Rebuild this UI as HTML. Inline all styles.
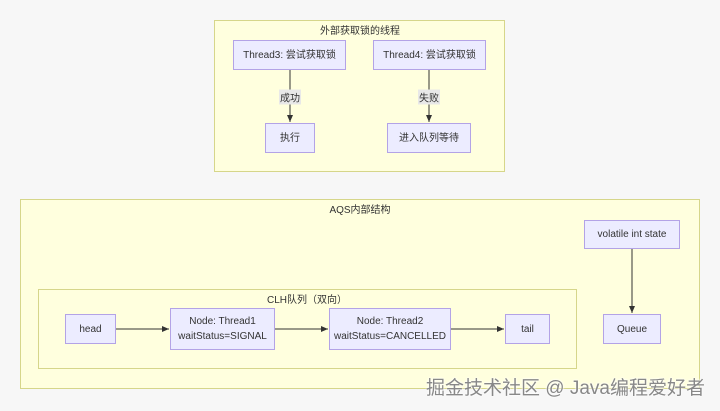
<!DOCTYPE html>
<html><head><meta charset="utf-8"><style>
body{margin:0;width:720px;height:411px;background:#f7f7f7;position:relative;overflow:hidden;font-family:"Liberation Sans","Noto Sans CJK SC",sans-serif;font-size:10px;color:#333}
.c{position:absolute;background:#ffffde;border:1px solid #d6d68a;box-sizing:border-box}
.n{position:absolute;background:#ececff;border:1px solid #b3a3e6;box-sizing:border-box;display:flex;align-items:center;justify-content:center;text-align:center;line-height:15px}
.t{position:absolute;text-align:center;transform:translateX(-50%);white-space:nowrap}
.l{position:absolute;background:#e8e8e8;padding:0 1px;transform:translate(-50%,-50%);white-space:nowrap}
</style></head><body>
<div class="c" style="left:214px;top:20px;width:291px;height:152px"></div>
<div class="c" style="left:20px;top:199px;width:680px;height:190px"></div>
<div class="c" style="left:38px;top:289px;width:539px;height:80px"></div>
<div class="t" style="left:360px;top:22px">外部获取锁的线程</div>
<div class="t" style="left:360px;top:201px">AQS内部结构</div>
<div class="t" style="left:307px;top:291px">CLH队列（双向）</div>
<svg width="720" height="411" style="position:absolute;left:0;top:0">
<defs><marker id="a" markerWidth="8" markerHeight="8" refX="7" refY="4" orient="auto"><path d="M0,1L7,4L0,7z" fill="#333"/></marker></defs>
<g stroke="#333" stroke-width="1" fill="none">
<line x1="290" y1="70" x2="290" y2="122" marker-end="url(#a)"/>
<line x1="429" y1="70" x2="429" y2="122" marker-end="url(#a)"/>
<line x1="116" y1="329" x2="169" y2="329" marker-end="url(#a)"/>
<line x1="275" y1="329" x2="328" y2="329" marker-end="url(#a)"/>
<line x1="451" y1="329" x2="504" y2="329" marker-end="url(#a)"/>
<line x1="632" y1="249" x2="632" y2="313" marker-end="url(#a)"/>
</g></svg>
<div class="l" style="left:290px;top:97px">成功</div>
<div class="l" style="left:429px;top:97px">失败</div>
<div class="n" style="left:233px;top:40px;width:113px;height:30px">Thread3: 尝试获取锁</div>
<div class="n" style="left:373px;top:40px;width:113px;height:30px">Thread4: 尝试获取锁</div>
<div class="n" style="left:265px;top:123px;width:50px;height:30px">执行</div>
<div class="n" style="left:387px;top:123px;width:84px;height:30px">进入队列等待</div>
<div class="n" style="left:65px;top:314px;width:51px;height:30px">head</div>
<div class="n" style="left:170px;top:308px;width:105px;height:42px">Node: Thread1<br>waitStatus=SIGNAL</div>
<div class="n" style="left:329px;top:308px;width:122px;height:42px">Node: Thread2<br>waitStatus=CANCELLED</div>
<div class="n" style="left:505px;top:314px;width:45px;height:30px">tail</div>
<div class="n" style="left:584px;top:220px;width:96px;height:29px">volatile int state</div>
<div class="n" style="left:603px;top:314px;width:58px;height:30px">Queue</div>
<div style="position:absolute;left:426px;top:373px;font-size:19px;color:#888;white-space:nowrap;text-shadow:0 0 2px #fff,0 0 2px #fff">掘金技术社区 @ Java编程爱好者</div>
</body></html>
